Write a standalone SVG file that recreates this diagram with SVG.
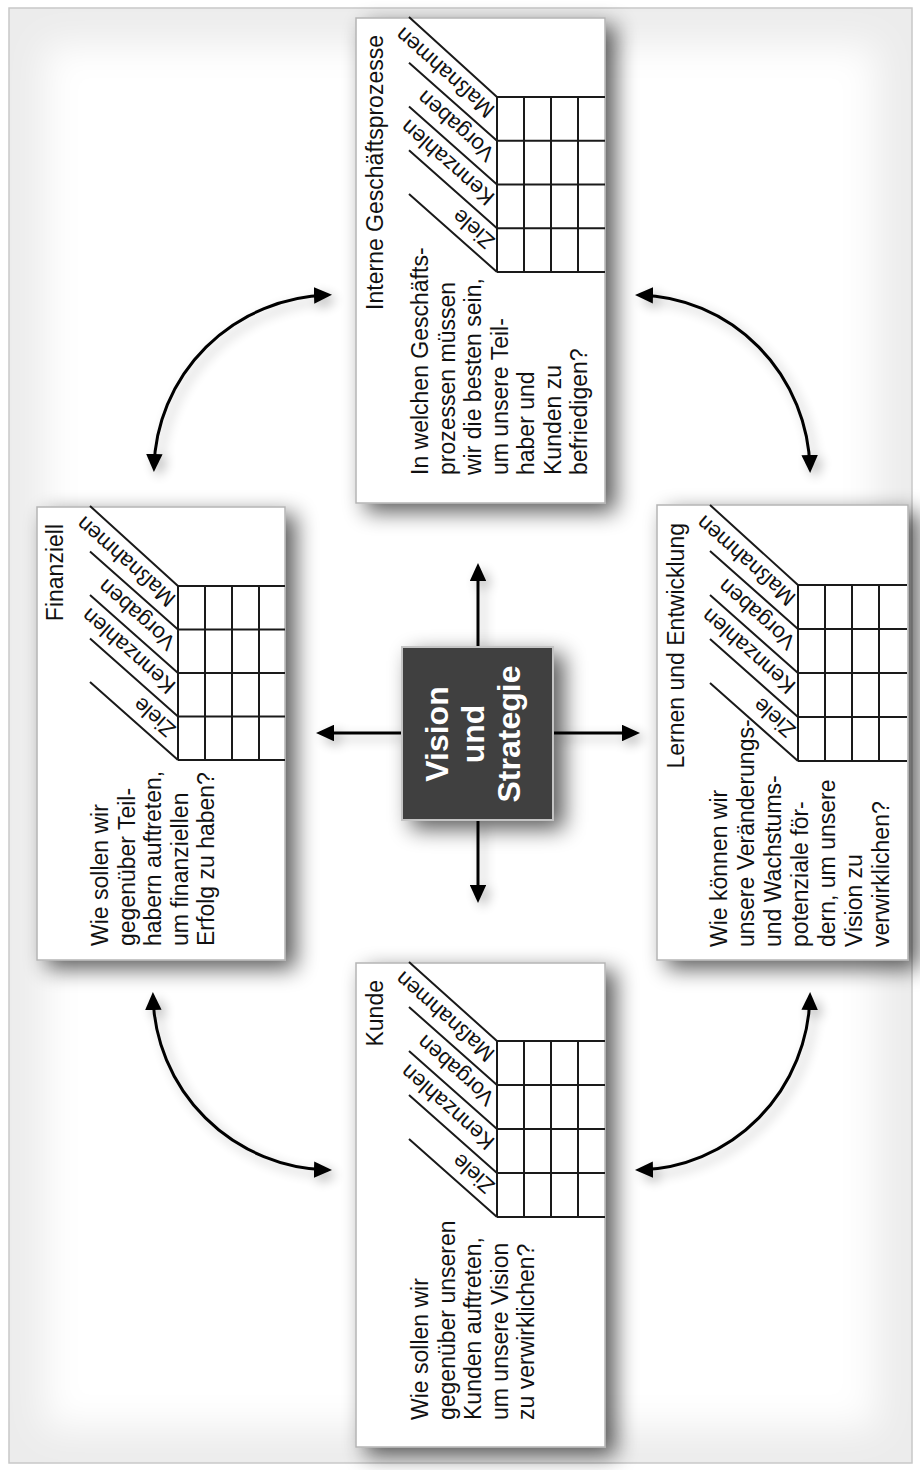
<svg xmlns="http://www.w3.org/2000/svg" width="920" height="1470" viewBox="0 0 920 1470">
<defs>
<style>
.box{fill:#fff;stroke:#b4b4b4;stroke-width:1.5}
.g{stroke:#1a1a1a;stroke-width:2;fill:none}
.t{font-family:"Liberation Sans",Arial,sans-serif;font-size:23px;fill:#111}
.h{font-family:"Liberation Sans",Arial,sans-serif;font-size:22px;fill:#111}
.c{font-family:"Liberation Sans",Arial,sans-serif;font-size:32px;font-weight:bold;fill:#fff}
.a{stroke:#000;stroke-width:3;fill:none}
</style>
<filter id="sh" x="-25%" y="-25%" width="160%" height="160%">
<feGaussianBlur in="SourceAlpha" stdDeviation="11"/>
<feOffset dx="10" dy="8"/>
<feComponentTransfer><feFuncA type="linear" slope="0.65"/></feComponentTransfer>
<feMerge><feMergeNode/><feMergeNode in="SourceGraphic"/></feMerge>
</filter>
<filter id="ash" x="-20%" y="-20%" width="150%" height="150%">
<feGaussianBlur in="SourceAlpha" stdDeviation="6"/>
<feOffset dx="5" dy="5"/>
<feComponentTransfer><feFuncA type="linear" slope="0.3"/></feComponentTransfer>
<feMerge><feMergeNode/><feMergeNode in="SourceGraphic"/></feMerge>
</filter>
<filter id="soft" x="-10%" y="-10%" width="120%" height="120%">
<feGaussianBlur stdDeviation="18"/>
</filter>
<marker id="ah" viewBox="0 0 12 11" refX="9" refY="5.5" markerWidth="6" markerHeight="5.5" orient="auto-start-reverse" markerUnits="strokeWidth">
<path d="M0,0 L12,5.5 L0,11 z" fill="#000"/>
</marker>
</defs>

<g id="background">
<rect x="0" y="0" width="920" height="1470" fill="#fff"/>
<rect x="9" y="8" width="903" height="1455" fill="#ececec" stroke="#c8c8c8" stroke-width="1.5"/>
<rect x="45" y="45" width="831" height="1383" fill="#fff" filter="url(#soft)"/>
</g>

<g id="connectors" filter="url(#ash)">
<path class="a" d="M154,467.5 A179,177 0 0 1 327.5,295" marker-start="url(#ah)" marker-end="url(#ah)"/>
<path class="a" d="M639.5,295 A175,178 0 0 1 810,468.5" marker-start="url(#ah)" marker-end="url(#ah)"/>
<path class="a" d="M810,996.5 A175,178 0 0 1 639.5,1170" marker-start="url(#ah)" marker-end="url(#ah)"/>
<path class="a" d="M327.5,1170 A179,178 0 0 1 153,996.5" marker-start="url(#ah)" marker-end="url(#ah)"/>
<path class="a" d="M478,647 L478,567.5" marker-end="url(#ah)"/>
<path class="a" d="M478,820 L478,898.5" marker-end="url(#ah)"/>
<path class="a" d="M402,733 L320.5,733" marker-end="url(#ah)"/>
<path class="a" d="M553,733 L635.5,733" marker-end="url(#ah)"/>
</g>

<g id="center">
<rect x="402" y="647" width="151" height="173" fill="#404040" stroke="#c4c4c4" stroke-width="2" filter="url(#sh)"/>
<text class="c" text-anchor="middle" transform="translate(448,734) rotate(-90)">Vision</text>
<text class="c" text-anchor="middle" transform="translate(484,734) rotate(-90)">und</text>
<text class="c" text-anchor="middle" transform="translate(520,734) rotate(-90)">Strategie</text>
</g>

<g id="intern">
<rect class="box" x="356" y="18" width="249" height="485" filter="url(#sh)"/>
<path class="g" d="M497,97 H605 M497,140.75 H605 M497,184.5 H605 M497,228.25 H605 M497,272 H605 M497,97 V272 M524,97 V272 M551,97 V272 M578,97 V272"/>
<path class="g" d="M409,17 L497,97 M409,62.75 L497,140.75 M409,106.5 L497,184.5 M409,150.25 L497,228.25 M409,194 L497,272"/>
<text class="h" dominant-baseline="central" transform="translate(491,113.6) rotate(221.5)">Maßnahmen</text>
<text class="h" dominant-baseline="central" transform="translate(491,157.3) rotate(221.5)">Vorgaben</text>
<text class="h" dominant-baseline="central" transform="translate(491,201.1) rotate(221.5)">Kennzahlen</text>
<text class="h" dominant-baseline="central" transform="translate(491,244.8) rotate(221.5)">Ziele</text>
<text class="t" text-anchor="end" transform="translate(383,35) rotate(-90)">Interne Geschäftsprozesse</text>
<text class="t" transform="translate(428,475) rotate(-90)">In welchen Geschäfts-</text>
<text class="t" transform="translate(454.5,475) rotate(-90)">prozessen müssen</text>
<text class="t" transform="translate(481,475) rotate(-90)">wir die besten sein,</text>
<text class="t" transform="translate(507.5,475) rotate(-90)">um unsere Teil-</text>
<text class="t" transform="translate(534,475) rotate(-90)">haber und</text>
<text class="t" transform="translate(560.5,475) rotate(-90)">Kunden zu</text>
<text class="t" transform="translate(587,475) rotate(-90)">befriedigen?</text>
</g>

<g id="finanziell">
<rect class="box" x="37" y="507" width="248" height="453" filter="url(#sh)"/>
<path class="g" d="M178,586 H285 M178,629.5 H285 M178,673 H285 M178,716.5 H285 M178,760 H285 M178,586 V760 M205,586 V760 M232,586 V760 M259,586 V760"/>
<path class="g" d="M90,506 L178,586 M90,551.5 L178,629.5 M90,595 L178,673 M90,638.5 L178,716.5 M90,682 L178,760"/>
<text class="h" dominant-baseline="central" transform="translate(172,602.5) rotate(221.5)">Maßnahmen</text>
<text class="h" dominant-baseline="central" transform="translate(172,646) rotate(221.5)">Vorgaben</text>
<text class="h" dominant-baseline="central" transform="translate(172,689.5) rotate(221.5)">Kennzahlen</text>
<text class="h" dominant-baseline="central" transform="translate(172,733) rotate(221.5)">Ziele</text>
<text class="t" text-anchor="end" transform="translate(63,524) rotate(-90)">Finanziell</text>
<text class="t" transform="translate(108,946) rotate(-90)">Wie sollen wir</text>
<text class="t" transform="translate(134.5,946) rotate(-90)">gegenüber Teil-</text>
<text class="t" transform="translate(161,946) rotate(-90)">habern auftreten,</text>
<text class="t" transform="translate(187.5,946) rotate(-90)">um finanziellen</text>
<text class="t" transform="translate(214,946) rotate(-90)">Erfolg zu haben?</text>
</g>

<g id="lernen">
<rect class="box" x="657" y="505" width="251" height="455" filter="url(#sh)"/>
<path class="g" d="M798,585 H907 M798,629 H907 M798,673 H907 M798,717 H907 M798,761 H907 M798,585 V761 M825,585 V761 M852,585 V761 M879,585 V761"/>
<path class="g" d="M710,505 L798,585 M710,551 L798,629 M710,595 L798,673 M710,639 L798,717 M710,683 L798,761"/>
<text class="h" dominant-baseline="central" transform="translate(792,601.7) rotate(221.5)">Maßnahmen</text>
<text class="h" dominant-baseline="central" transform="translate(792,645.7) rotate(221.5)">Vorgaben</text>
<text class="h" dominant-baseline="central" transform="translate(792,689.7) rotate(221.5)">Kennzahlen</text>
<text class="h" dominant-baseline="central" transform="translate(792,733.7) rotate(221.5)">Ziele</text>
<text class="t" text-anchor="end" transform="translate(684,523) rotate(-90)">Lernen und Entwicklung</text>
<text class="t" transform="translate(727,947) rotate(-90)">Wie können wir</text>
<text class="t" transform="translate(754,947) rotate(-90)">unsere Veränderungs-</text>
<text class="t" transform="translate(781,947) rotate(-90)">und Wachstums-</text>
<text class="t" transform="translate(808,947) rotate(-90)">potenziale för-</text>
<text class="t" transform="translate(835,947) rotate(-90)">dern, um unsere</text>
<text class="t" transform="translate(862,947) rotate(-90)">Vision zu</text>
<text class="t" transform="translate(889,947) rotate(-90)">verwirklichen?</text>
</g>

<g id="kunde">
<rect class="box" x="356" y="963" width="249" height="484" filter="url(#sh)"/>
<path class="g" d="M497,1041 H605 M497,1085 H605 M497,1129 H605 M497,1173 H605 M497,1217 H605 M497,1041 V1217 M524,1041 V1217 M551,1041 V1217 M578,1041 V1217"/>
<path class="g" d="M409,962 L497,1041 M409,1007 L497,1085 M409,1051 L497,1129 M409,1095 L497,1173 M409,1139 L497,1217"/>
<text class="h" dominant-baseline="central" transform="translate(491,1057.7) rotate(221.5)">Maßnahmen</text>
<text class="h" dominant-baseline="central" transform="translate(491,1101.7) rotate(221.5)">Vorgaben</text>
<text class="h" dominant-baseline="central" transform="translate(491,1145.7) rotate(221.5)">Kennzahlen</text>
<text class="h" dominant-baseline="central" transform="translate(491,1189.7) rotate(221.5)">Ziele</text>
<text class="t" text-anchor="end" transform="translate(383,980) rotate(-90)">Kunde</text>
<text class="t" transform="translate(428,1420) rotate(-90)">Wie sollen wir</text>
<text class="t" transform="translate(454.5,1420) rotate(-90)">gegenüber unseren</text>
<text class="t" transform="translate(481,1420) rotate(-90)">Kunden auftreten,</text>
<text class="t" transform="translate(507.5,1420) rotate(-90)">um unsere Vision</text>
<text class="t" transform="translate(534,1420) rotate(-90)">zu verwirklichen?</text>
</g>
</svg>
